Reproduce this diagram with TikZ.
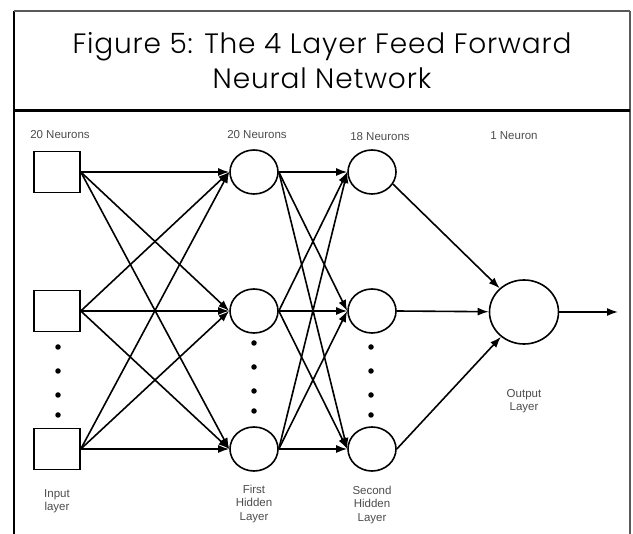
\documentclass[tikz,border=0pt]{standalone}
\usepackage{fontspec}
\setmainfont{Poppins}
\newfontfamily\titlefont[LetterSpace=3]{Poppins Light}
\newfontfamily\labelfont{Liberation Sans}
\usetikzlibrary{positioning, shapes.geometric, arrows.meta}

\begin{document}
\begin{tikzpicture}[x=1pt, y=-1pt,
    inunit/.style={rectangle, draw, line width=1.6pt, minimum width=46pt, minimum height=41pt, inner sep=0pt},
    neuron/.style={ellipse, draw, line width=1.6pt, minimum width=48pt, minimum height=44pt, inner sep=0pt},
    outneuron/.style={ellipse, draw, line width=1.6pt, minimum width=69pt, minimum height=64pt, inner sep=0pt},
    vdot/.style={circle, fill, inner sep=0pt, minimum size=5.5pt},
    wire/.style={line width=1.6pt, -{Latex[length=11pt, width=8pt]}},
    caption/.style={font=\labelfont\fontsize{11.5}{13.5}\selectfont, text=black!70, align=center, inner sep=0pt}]

        \useasboundingbox (0,0) rectangle (633,534);

        %-----Frame and title-----
        \draw[line width=1.3pt] (14,534) -- (14,11);
        \draw[line width=1.3pt, black!65] (14,11) -- (630,11);
        \draw[line width=2pt, black!65] (630,11) -- (630,534);
        \draw[line width=2.2pt] (14,110.5) -- (630,110.5);

        \node[font=\titlefont\fontsize{28}{35}\selectfont, align=center, inner sep=0pt] (title) at (322,61)
            {Figure 5: The 4 Layer Feed Forward\\Neural Network};

        %-----Layers-----

        % input squares, first and second hidden neurons, row by row
        \foreach \r/\y in {a/172, b/311, c/449} {
            \node[inunit] (in\r) at (57,\y) {};
            \node[neuron] (hida\r) at (254,\y) {};
            \node[neuron] (hidb\r) at (372,\y) {};
        }

        % Output neuron
        \node[outneuron] (out) at (524,312) {};
        \coordinate (outend) at (618,312);

        % dots for the neurons left out
        \foreach \i/\y in {1/347, 2/371, 3/395, 4/415} {
            \node[vdot] (indot\i) at (58,\y) {};
            \node[vdot] (hidadot\i) at (254,\y-4) {};
            \node[vdot] (hidbdot\i) at (371,\y) {};
        }

        %-----Labels-----
        \node[caption] (inn) at (60,135) {20 Neurons};
        \node[caption] (hidan) at (257,135) {20 Neurons};
        \node[caption] (hidbn) at (380,137) {18 Neurons};
        \node[caption] (outn) at (514,136) {1 Neuron};

        \node[caption, below=19pt of inc] (inlbl) {Input\\layer};
        \node[caption, below=13pt of hidac] (hidalbl) {First\\Hidden\\Layer};
        \node[caption, below=14pt of hidbc] (hidblbl) {Second\\Hidden\\Layer};
        \node[caption, below=44pt of out] (outlbl) {Output\\Layer};

        %-----Connections-----

        % every unit feeds every unit of the next layer
        \foreach \s in {a,b,c} {
            \foreach \t in {a,b,c} {
                \draw[wire] (in\s.east) -- (hida\t.west);
                \draw[wire] (hida\s.east) -- (hidb\t.west);
            }
        }

        % into the output neuron
        \draw[wire] (hidba.-30) -- (out);
        \draw[wire] (hidbb.east) -- (out);
        \draw[wire] (hidbc.east) -- (out);

        % network output
        \draw[wire] (out.east) -- (outend);

    \end{tikzpicture}
\end{document}
